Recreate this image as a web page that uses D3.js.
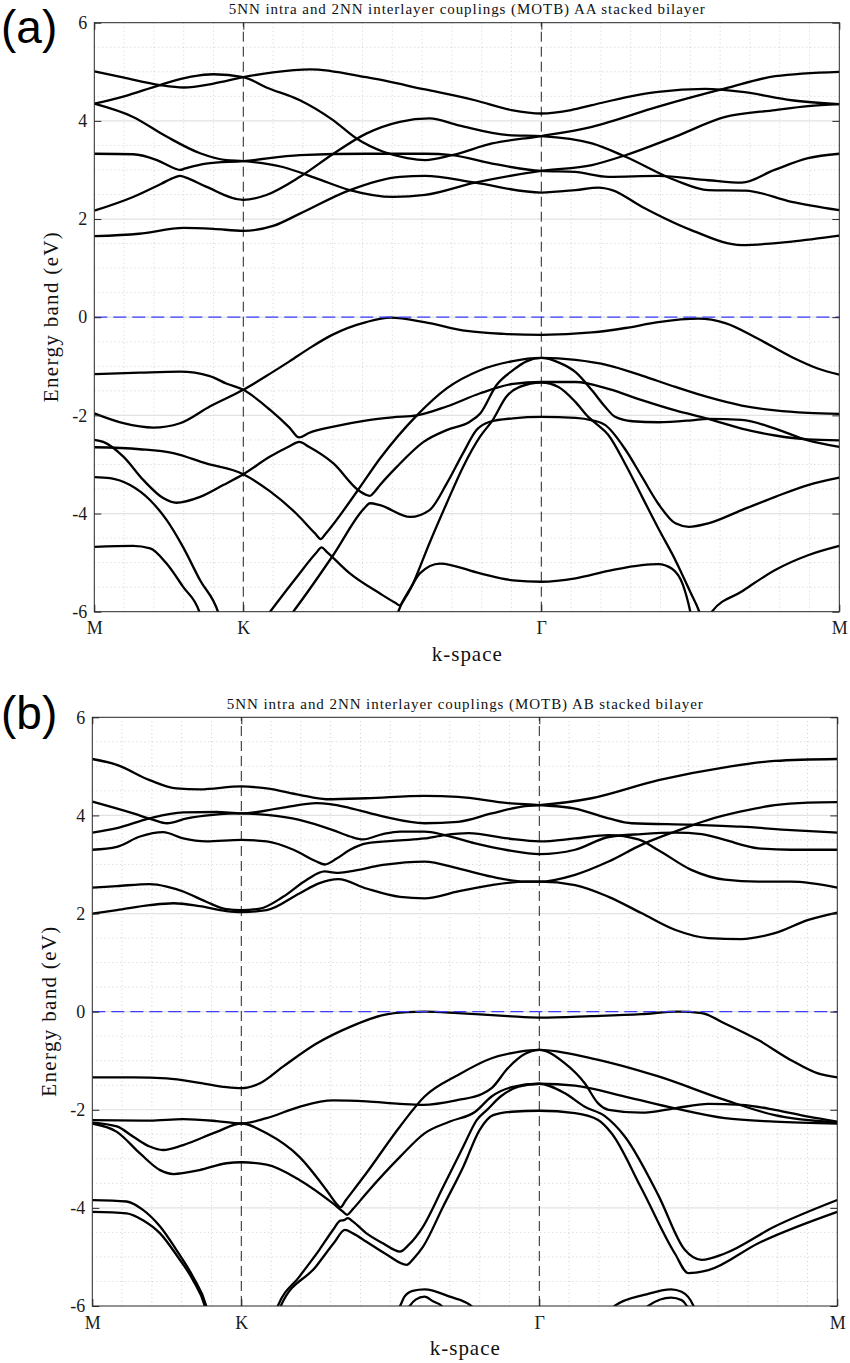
<!DOCTYPE html>
<html>
<head>
<meta charset="utf-8">
<script src="https://cdn.jsdelivr.net/npm/d3@7"></script>
<style>
body { margin: 0; background: #fff; }
</style>
</head>
<body>
<svg id="chart" width="850" height="1363"></svg>
<script>
let kTicks = [0, 0.2, 0.6, 1]
let kLabels = ['M', 'K', 'Γ', 'M']
let eTicks = [-6, -4, -2, 0, 2, 4, 6]
let serif = 'Liberation Serif'

// ---- (a) AA stacked, conduction bands ----
let aa_c1 = [[0,5.01],[0.04,4.88],[0.088,4.73],[0.12,4.68],[0.16,4.76],[0.2,4.89],[0.24,4.99],[0.29,5.05],[0.365,4.89],[0.444,4.64],[0.511,4.42],[0.56,4.22],[0.6,4.15],[0.64,4.22],[0.668,4.32],[0.72,4.5],[0.757,4.59],[0.82,4.65],[0.87,4.59],[0.936,4.42],[1,4.34]]
let aa_c2 = [[0,4.35],[0.04,4.5],[0.088,4.73],[0.13,4.9],[0.16,4.95],[0.2,4.89],[0.231,4.68],[0.276,4.42],[0.32,4.02],[0.352,3.64],[0.388,3.37],[0.42,3.24],[0.444,3.2],[0.48,3.3],[0.534,3.54],[0.6,3.69],[0.668,3.88],[0.757,4.29],[0.847,4.66],[0.914,4.91],[1,5.0]]
let aa_c3 = [[0,4.35],[0.052,4.08],[0.097,3.68],[0.142,3.34],[0.177,3.2],[0.2,3.18],[0.253,3.06],[0.298,2.83],[0.343,2.59],[0.401,2.45],[0.444,2.49],[0.511,2.74],[0.6,2.98],[0.668,3.1],[0.713,3.3],[0.78,3.68],[0.847,4.08],[0.914,4.22],[0.958,4.3],[1,4.34]]
let aa_c4 = [[0,3.33],[0.052,3.32],[0.084,3.2],[0.108,3.03],[0.115,3.0],[0.122,3.03],[0.15,3.13],[0.2,3.18],[0.276,3.3],[0.365,3.33],[0.444,3.33],[0.48,3.3],[0.534,3.13],[0.6,2.98],[0.645,2.96],[0.69,2.86],[0.757,2.88],[0.824,2.79],[0.869,2.74],[0.913,3.0],[0.958,3.24],[1,3.33]]
let aa_c5 = [[0,2.17],[0.052,2.45],[0.09,2.72],[0.108,2.85],[0.115,2.88],[0.122,2.85],[0.15,2.66],[0.2,2.39],[0.231,2.49],[0.276,2.86],[0.32,3.32],[0.365,3.74],[0.41,3.98],[0.45,4.05],[0.489,3.91],[0.556,3.71],[0.6,3.69],[0.668,3.54],[0.713,3.27],[0.78,2.79],[0.824,2.59],[0.874,2.58],[0.936,2.35],[1,2.18]]
let aa_c6 = [[0,1.65],[0.06,1.7],[0.12,1.82],[0.16,1.8],[0.2,1.76],[0.24,1.86],[0.276,2.11],[0.343,2.59],[0.41,2.86],[0.444,2.88],[0.511,2.74],[0.6,2.54],[0.646,2.59],[0.677,2.64],[0.695,2.59],[0.735,2.25],[0.802,1.77],[0.869,1.47],[0.936,1.54],[1,1.66]]

// ---- (a) AA stacked, valence bands ----
let aa_v1 = [[0,-1.96],[0.039,-2.16],[0.079,-2.25],[0.115,-2.16],[0.155,-1.82],[0.2,-1.48],[0.236,-1.15],[0.262,-0.9],[0.29,-0.62],[0.318,-0.37],[0.365,-0.1],[0.398,-0.01],[0.443,-0.1],[0.5,-0.28],[0.55,-0.34],[0.6,-0.36],[0.668,-0.31],[0.713,-0.22],[0.757,-0.1],[0.811,-0.03],[0.847,-0.12],[0.891,-0.44],[0.936,-0.81],[0.972,-1.05],[1,-1.17]]
let aa_v2 = [[0,-1.16],[0.061,-1.13],[0.115,-1.11],[0.155,-1.2],[0.177,-1.35],[0.2,-1.48],[0.236,-1.89],[0.262,-2.25],[0.275,-2.45],[0.288,-2.36],[0.321,-2.23],[0.366,-2.1],[0.4,-2.04],[0.433,-2.0],[0.473,-1.82],[0.518,-1.55],[0.562,-1.36],[0.6,-1.32],[0.646,-1.32],[0.69,-1.46],[0.735,-1.69],[0.78,-1.9],[0.824,-2.07],[0.869,-2.27],[0.914,-2.41],[0.958,-2.49],[1,-2.51]]
let aa_v3 = [[0,-2.5],[0.012,-2.54],[0.039,-2.84],[0.066,-3.32],[0.093,-3.69],[0.11,-3.78],[0.142,-3.66],[0.173,-3.42],[0.2,-3.2],[0.236,-2.84],[0.262,-2.63],[0.275,-2.54],[0.288,-2.64],[0.321,-2.98],[0.354,-3.52],[0.365,-3.62],[0.37,-3.64],[0.376,-3.56],[0.3835,-3.42],[0.406,-3.05],[0.442,-2.54],[0.473,-2.3],[0.504,-2.13],[0.518,-1.96],[0.54,-1.38],[0.562,-1.08],[0.58,-0.9],[0.6,-0.83],[0.623,-0.92],[0.646,-1.12],[0.668,-1.49],[0.686,-1.83],[0.699,-2.03],[0.722,-2.12],[0.757,-2.14],[0.802,-2.1],[0.824,-2.07],[0.869,-2.09],[0.914,-2.27],[0.958,-2.51],[1,-2.64]]
let aa_v4 = [[0,-2.65],[0.061,-2.69],[0.106,-2.77],[0.15,-2.98],[0.2,-3.2],[0.236,-3.55],[0.271,-4.0],[0.296,-4.4],[0.304,-4.52],[0.31,-4.42],[0.354,-3.52],[0.3835,-2.88],[0.433,-2.0],[0.473,-1.45],[0.518,-1.08],[0.56,-0.9],[0.6,-0.83],[0.646,-0.87],[0.69,-0.98],[0.735,-1.19],[0.78,-1.42],[0.824,-1.63],[0.869,-1.8],[0.914,-1.9],[0.958,-1.95],[1,-1.97]]
let aa_v5 = [[0.226,-6.2],[0.236,-6],[0.27,-5.33],[0.298,-4.8],[0.305,-4.69],[0.312,-4.78],[0.343,-5.22],[0.3835,-5.63],[0.404,-5.82],[0.41,-5.87],[0.418,-5.7],[0.437,-5.22],[0.464,-5.02],[0.518,-5.22],[0.562,-5.36],[0.6,-5.39],[0.646,-5.32],[0.69,-5.17],[0.735,-5.05],[0.757,-5.03],[0.775,-5.12],[0.79,-5.45],[0.8,-6],[0.804,-6.3]]
let aa_v6 = [[0.262,-6.1],[0.267,-6],[0.321,-4.84],[0.362,-3.9],[0.37,-3.79],[0.3835,-3.83],[0.424,-4.07],[0.45,-3.93],[0.473,-3.39],[0.495,-2.77],[0.513,-2.3],[0.531,-2.13],[0.562,-2.06],[0.6,-2.03],[0.646,-2.05],[0.668,-2.1],[0.686,-2.2],[0.713,-2.7],[0.735,-3.25],[0.757,-3.8],[0.78,-4.2],[0.798,-4.27],[0.824,-4.2],[0.869,-3.93],[0.914,-3.66],[0.958,-3.42],[1,-3.27]]
let aa_v7 = [[0.404,-6.2],[0.408,-6],[0.428,-5.42],[0.45,-4.6],[0.473,-3.79],[0.495,-3.05],[0.518,-2.43],[0.535,-2.09],[0.553,-1.62],[0.571,-1.42],[0.6,-1.33],[0.623,-1.42],[0.646,-1.73],[0.663,-2.03],[0.672,-2.15],[0.69,-2.4],[0.713,-3.0],[0.735,-3.65],[0.757,-4.3],[0.78,-4.95],[0.8,-5.6],[0.812,-6],[0.818,-6.3]]
let aa_v8 = [[0.823,-6.3],[0.829,-6],[0.869,-5.59],[0.914,-5.15],[0.958,-4.85],[1,-4.66]]
let aa_v9 = [[0,-3.26],[0.021,-3.28],[0.048,-3.42],[0.075,-3.73],[0.097,-4.13],[0.119,-4.68],[0.142,-5.36],[0.166,-6],[0.172,-6.3]]
let aa_v10 = [[0,-4.68],[0.052,-4.66],[0.075,-4.71],[0.097,-5.02],[0.119,-5.49],[0.141,-6],[0.147,-6.3]]

// ---- (b) AB stacked, conduction bands ----
let ab_c1 = [[0,5.15],[0.033,5.03],[0.077,4.72],[0.113,4.55],[0.144,4.53],[0.2,4.59],[0.234,4.55],[0.278,4.42],[0.314,4.33],[0.368,4.35],[0.446,4.4],[0.491,4.38],[0.558,4.25],[0.6,4.21],[0.648,4.14],[0.693,3.94],[0.724,3.84],[0.804,3.81],[0.871,3.77],[0.938,3.7],[1,3.65]]
let ab_c2 = [[0,3.65],[0.033,3.74],[0.077,3.94],[0.122,4.06],[0.167,4.07],[0.2,4.04],[0.256,4.16],[0.301,4.25],[0.319,4.23],[0.346,4.15],[0.39,3.98],[0.446,3.84],[0.491,3.87],[0.536,4.04],[0.581,4.19],[0.6,4.21],[0.67,4.35],[0.76,4.72],[0.849,4.98],[0.916,5.11],[1,5.15]]
let ab_c3 = [[0,4.28],[0.055,4.04],[0.082,3.91],[0.1,3.84],[0.127,3.94],[0.162,4.01],[0.2,4.04],[0.234,4.01],[0.278,3.91],[0.323,3.7],[0.346,3.57],[0.363,3.51],[0.39,3.62],[0.413,3.67],[0.446,3.67],[0.473,3.6],[0.514,3.43],[0.558,3.29],[0.6,3.21],[0.648,3.3],[0.693,3.56],[0.737,3.62],[0.782,3.65],[0.818,3.62],[0.849,3.5],[0.894,3.33],[0.938,3.3],[1,3.3]]
let ab_c4 = [[0,3.3],[0.033,3.36],[0.064,3.57],[0.095,3.66],[0.122,3.53],[0.153,3.47],[0.2,3.5],[0.234,3.47],[0.27,3.3],[0.301,3.06],[0.312,3.0],[0.328,3.12],[0.346,3.3],[0.368,3.43],[0.413,3.49],[0.446,3.53],[0.473,3.6],[0.505,3.64],[0.558,3.53],[0.6,3.47],[0.648,3.53],[0.693,3.6],[0.733,3.51],[0.76,3.29],[0.804,2.89],[0.849,2.69],[0.894,2.65],[0.938,2.65],[1,2.53]]
let ab_c5 = [[0,2.53],[0.033,2.56],[0.077,2.6],[0.1,2.55],[0.122,2.45],[0.153,2.24],[0.18,2.09],[0.2,2.07],[0.225,2.1],[0.256,2.34],[0.287,2.68],[0.312,2.86],[0.328,2.83],[0.346,2.86],[0.39,2.99],[0.446,3.06],[0.491,2.92],[0.536,2.75],[0.581,2.65],[0.6,2.65],[0.648,2.58],[0.693,2.34],[0.737,2.01],[0.782,1.67],[0.827,1.5],[0.871,1.48],[0.916,1.6],[0.961,1.87],[1,2.02]]
let ab_c6 = [[0,2.0],[0.033,2.07],[0.077,2.17],[0.109,2.21],[0.144,2.15],[0.18,2.05],[0.2,2.03],[0.234,2.07],[0.278,2.41],[0.305,2.62],[0.33,2.7],[0.368,2.51],[0.413,2.34],[0.446,2.31],[0.491,2.45],[0.536,2.58],[0.581,2.65],[0.6,2.65],[0.648,2.79],[0.693,3.06],[0.737,3.4],[0.782,3.67],[0.827,3.91],[0.871,4.08],[0.916,4.21],[0.961,4.26],[1,4.27]]

// ---- (b) AB stacked, valence bands ----
let ab_v1 = [[0,-1.34],[0.055,-1.34],[0.1,-1.36],[0.144,-1.45],[0.18,-1.54],[0.2,-1.56],[0.225,-1.46],[0.256,-1.12],[0.301,-0.65],[0.346,-0.31],[0.39,-0.07],[0.422,-0.01],[0.446,0],[0.491,-0.03],[0.558,-0.09],[0.6,-0.12],[0.67,-0.09],[0.737,-0.05],[0.786,0],[0.818,-0.03],[0.849,-0.24],[0.894,-0.58],[0.938,-0.99],[0.974,-1.26],[1,-1.34]]
let ab_v2 = [[0,-2.21],[0.077,-2.22],[0.122,-2.19],[0.167,-2.23],[0.2,-2.28],[0.234,-2.17],[0.278,-1.94],[0.323,-1.81],[0.368,-1.83],[0.413,-1.88],[0.444,-1.9],[0.491,-1.8],[0.523,-1.68],[0.536,-1.56],[0.558,-1.15],[0.581,-0.86],[0.6,-0.78],[0.634,-1.05],[0.661,-1.46],[0.679,-1.87],[0.693,-2.0],[0.737,-2.06],[0.782,-1.97],[0.827,-1.88],[0.871,-1.9],[0.916,-2.0],[0.961,-2.14],[1,-2.24]]
let ab_v3 = [[0,-2.26],[0.033,-2.34],[0.055,-2.55],[0.077,-2.75],[0.095,-2.82],[0.122,-2.72],[0.167,-2.45],[0.2,-2.28],[0.234,-2.48],[0.278,-2.96],[0.314,-3.63],[0.328,-3.92],[0.333,-3.99],[0.34,-3.85],[0.368,-3.29],[0.413,-2.34],[0.446,-1.73],[0.491,-1.29],[0.536,-0.95],[0.572,-0.82],[0.6,-0.78],[0.67,-0.95],[0.76,-1.32],[0.849,-1.8],[0.916,-2.11],[1,-2.26]]
let ab_v4 = [[0,-2.28],[0.033,-2.45],[0.064,-2.89],[0.091,-3.23],[0.109,-3.31],[0.144,-3.23],[0.18,-3.09],[0.2,-3.07],[0.234,-3.12],[0.278,-3.43],[0.323,-3.91],[0.336,-4.07],[0.342,-4.14],[0.35,-4.02],[0.368,-3.7],[0.413,-2.96],[0.446,-2.48],[0.48,-2.24],[0.514,-2.04],[0.536,-1.73],[0.563,-1.54],[0.6,-1.47],[0.648,-1.51],[0.715,-1.73],[0.782,-1.97],[0.849,-2.17],[0.916,-2.24],[1,-2.28]]
let ab_v5 = [[0.244,-6.2],[0.249,-6],[0.278,-5.4],[0.305,-4.85],[0.323,-4.45],[0.333,-4.26],[0.338,-4.25],[0.343,-4.21],[0.35,-4.28],[0.368,-4.52],[0.39,-4.72],[0.413,-4.89],[0.425,-4.75],[0.444,-4.38],[0.471,-3.57],[0.498,-2.75],[0.516,-2.21],[0.53,-2.0],[0.548,-1.73],[0.572,-1.53],[0.6,-1.47],[0.634,-1.66],[0.661,-1.94],[0.688,-2.13],[0.715,-2.55],[0.76,-3.75],[0.795,-4.85],[0.818,-5.06],[0.849,-4.93],[0.916,-4.38],[1,-3.84]]
let ab_v6 = [[0.248,-6.2],[0.253,-6],[0.3,-5.2],[0.325,-4.7],[0.339,-4.45],[0.35,-4.52],[0.368,-4.69],[0.395,-4.95],[0.422,-5.16],[0.432,-5.02],[0.444,-4.79],[0.471,-3.97],[0.498,-3.16],[0.52,-2.41],[0.538,-2.11],[0.563,-2.04],[0.6,-2.02],[0.648,-2.07],[0.679,-2.21],[0.697,-2.48],[0.737,-3.6],[0.782,-4.93],[0.8,-5.33],[0.827,-5.27],[0.894,-4.72],[1,-4.08]]
let ab_v7 = [[0,-3.84],[0.046,-3.87],[0.068,-4.04],[0.091,-4.38],[0.113,-4.86],[0.135,-5.4],[0.153,-6],[0.158,-6.3]]
let ab_v8 = [[0,-4.08],[0.046,-4.11],[0.068,-4.25],[0.091,-4.52],[0.113,-4.96],[0.135,-5.47],[0.151,-6],[0.156,-6.3]]
let ab_v9 = [[0.4,-6.2],[0.413,-6],[0.419,-5.81],[0.43,-5.69],[0.446,-5.66],[0.48,-5.81],[0.509,-6],[0.515,-6.1]]
let ab_v10 = [[0.418,-6.2],[0.426,-6],[0.434,-5.87],[0.446,-5.81],[0.458,-5.91],[0.469,-6],[0.473,-6.1]]
let ab_v11 = [[0.695,-6.1],[0.701,-6],[0.742,-5.77],[0.777,-5.66],[0.791,-5.71],[0.807,-6],[0.811,-6.2]]
let ab_v12 = [[0.74,-6.1],[0.746,-6],[0.777,-5.83],[0.791,-5.88],[0.798,-6],[0.801,-6.1]]

let aa_bands = [aa_c1, aa_c2, aa_c3, aa_c4, aa_c5, aa_c6, aa_v1, aa_v2, aa_v3, aa_v4, aa_v5, aa_v6, aa_v7, aa_v8, aa_v9, aa_v10]
let ab_bands = [ab_c1, ab_c2, ab_c3, ab_c4, ab_c5, ab_c6, ab_v1, ab_v2, ab_v3, ab_v4, ab_v5, ab_v6, ab_v7, ab_v8, ab_v9, ab_v10, ab_v11, ab_v12]

let svg = d3.select('#chart')

function draw_panel(p) {
    let x = d3.scaleLinear().domain([0, 1]).range([p.left, p.left + p.w])
    let y = d3.scaleLinear().domain([-6, 6]).range([p.top + p.h, p.top])
    let g = svg.append('g')

    // minor dotted grid
    let minorK = d3.range(1, 25).map(i => i * 0.04).filter(v => Math.abs(v - 0.2) > 1e-6 && Math.abs(v - 0.6) > 1e-6)
    let minorE = d3.range(-11, 12).map(i => i * 0.5).filter(v => Math.abs(v % 2) > 1e-6)
    g.selectAll('.mk').data(minorK).enter().append('line')
        .attr('x1', d => x(d)).attr('x2', d => x(d))
        .attr('y1', y(-6)).attr('y2', y(6))
        .attr('stroke', '#c4c4c4').attr('stroke-width', 0.8).attr('stroke-dasharray', '1,3')
    g.selectAll('.me').data(minorE).enter().append('line')
        .attr('x1', x(0)).attr('x2', x(1))
        .attr('y1', d => y(d)).attr('y2', d => y(d))
        .attr('stroke', '#c4c4c4').attr('stroke-width', 0.8).attr('stroke-dasharray', '1,3')
    // major grid
    g.selectAll('.ge').data(eTicks.slice(1, -1)).enter().append('line')
        .attr('x1', x(0)).attr('x2', x(1))
        .attr('y1', d => y(d)).attr('y2', d => y(d))
        .attr('stroke', '#e2e2e2').attr('stroke-width', 1.2)

    // high-symmetry points
    g.selectAll('.hs').data([0.2, 0.6]).enter().append('line')
        .attr('x1', d => x(d)).attr('x2', d => x(d))
        .attr('y1', y(-6)).attr('y2', y(6))
        .attr('stroke', '#222').attr('stroke-width', 1).attr('stroke-dasharray', '10,5')

    // bands
    svg.append('clipPath').attr('id', p.id + '-clip')
        .append('rect').attr('x', p.left).attr('y', p.top).attr('width', p.w).attr('height', p.h)
    let line = d3.line()
        .x(d => x(d[0]))
        .y(d => y(d[1]))
        .curve(d3.curveMonotoneX)
    g.append('g').attr('clip-path', `url(#${p.id}-clip)`)
        .selectAll('path').data(p.bands).enter().append('path')
        .attr('d', line)
        .attr('fill', 'none')
        .attr('stroke', '#000')
        .attr('stroke-width', 2.3)
        .attr('stroke-linejoin', 'round')

    // Fermi level
    g.append('line')
        .attr('x1', x(0)).attr('x2', x(1))
        .attr('y1', y(0)).attr('y2', y(0))
        .attr('stroke', '#3c3cff').attr('stroke-width', 1.2).attr('stroke-dasharray', '13,6')

    // axes
    let axL = d3.axisLeft(y).tickValues(eTicks).tickFormat(d => String(d)).tickSize(-7).tickPadding(7)
    let axR = d3.axisRight(y).tickValues(eTicks).tickFormat('').tickSize(-7)
    let axB = d3.axisBottom(x).tickValues(kTicks).tickFormat((d, i) => kLabels[i]).tickSize(-7).tickPadding(10)
    let axT = d3.axisTop(x).tickValues(kTicks).tickFormat('').tickSize(-7)
    let ax = [
        g.append('g').attr('transform', `translate(${p.left},0)`).call(axL),
        g.append('g').attr('transform', `translate(${p.left + p.w},0)`).call(axR),
        g.append('g').attr('transform', `translate(0,${p.top + p.h})`).call(axB),
        g.append('g').attr('transform', `translate(0,${p.top})`).call(axT)
    ]
    ax.forEach(a => {
        a.select('.domain').remove()
        a.attr('font-family', serif).attr('font-size', 18)
        a.selectAll('line').attr('stroke', '#262626')
        a.selectAll('text').attr('fill', '#1a1a1a')
    })

    // box
    g.append('rect')
        .attr('x', p.left).attr('y', p.top).attr('width', p.w).attr('height', p.h)
        .attr('fill', 'none').attr('stroke', '#262626').attr('stroke-width', 1)

    // texts
    g.append('text')
        .attr('x', p.left + p.w / 2).attr('y', p.top - 8.5)
        .attr('text-anchor', 'middle')
        .attr('font-family', serif).attr('font-size', 15)
        .attr('textLength', 476).attr('lengthAdjust', 'spacing')
        .attr('fill', '#111')
        .text(p.title)
    g.append('text')
        .attr('x', p.left + p.w / 2).attr('y', p.top + p.h + 49)
        .attr('text-anchor', 'middle')
        .attr('font-family', serif).attr('font-size', 21)
        .attr('textLength', 70).attr('lengthAdjust', 'spacing')
        .attr('fill', '#111')
        .text('k-space')
    g.append('text')
        .attr('transform', `translate(${p.left - 36},${p.top + p.h / 2}) rotate(-90)`)
        .attr('text-anchor', 'middle')
        .attr('font-family', serif).attr('font-size', 21)
        .attr('textLength', 170).attr('lengthAdjust', 'spacing')
        .attr('fill', '#111')
        .text('Energy band (eV)')
    g.append('text')
        .attr('x', p.tagX).attr('y', p.tagY)
        .attr('font-family', 'Liberation Sans').attr('font-size', 46)
        .attr('fill', '#000')
        .text(p.tag)
}

draw_panel({
    id: 'aa', left: 94.3, top: 22.7, w: 745, h: 589, bands: aa_bands,
    title: '5NN intra and 2NN interlayer couplings (MOTB) AA stacked bilayer',
    tag: '(a)', tagX: 1, tagY: 43
})
draw_panel({
    id: 'ab', left: 92.3, top: 717.3, w: 745, h: 588.7, bands: ab_bands,
    title: '5NN intra and 2NN interlayer couplings (MOTB) AB stacked bilayer',
    tag: '(b)', tagX: 1, tagY: 729
})
</script>
</body>
</html>
